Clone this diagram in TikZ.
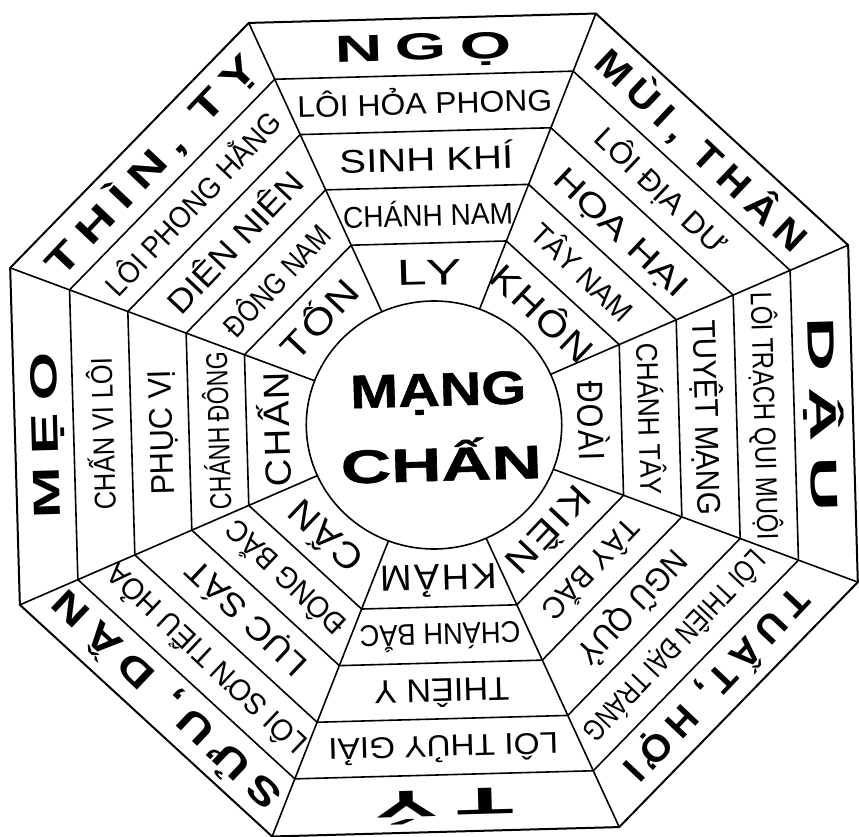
\documentclass[tikz,border=0pt]{standalone}
\usepackage{fontspec}
\setmainfont{Liberation Sans}
\usepackage{graphicx}
\newcommand\fitw[2]{\resizebox{#1pt}{\height}{#2}}

\begin{document}
\begin{tikzpicture}[x=1pt,y=1pt,
  edge/.style={line width=1.6pt,line join=round},
  rimlabel/.style={anchor=base,inner sep=0pt,font=\fontsize{37.7}{40}\selectfont\bfseries\addfontfeature{LetterSpace=20}},
  hexlabel/.style={anchor=base,inner sep=0pt,font=\fontsize{30}{32}\selectfont},
  starlabel/.style={anchor=base,inner sep=0pt,font=\fontsize{32.8}{34}\selectfont},
  dirlabel/.style={anchor=base,inner sep=0pt,font=\fontsize{30}{32}\selectfont},
  trilabel/.style={anchor=base,inner sep=0pt,font=\fontsize{36.3}{38}\selectfont\addfontfeature{LetterSpace=6}},
  core/.style={anchor=base,inner sep=0pt,font=\fontsize{47}{50}\selectfont\bfseries\addfontfeature{FakeBold=1}}]
  \useasboundingbox (-434,-411) rectangle (425,425);
  \fill[white] (-434,-411) rectangle (425,425);
  \begin{scope}[xscale=1.03,rotate=1.6]
    % octagon and its rings
    \draw[edge,line width=2pt] (22.5:440.5) \foreach \k in {1,...,7}{ -- (22.5+45*\k:440.5)} -- cycle;
    \foreach \R in {378.8,318.2,257.6,197}
      \draw[edge] (22.5:\R) \foreach \k in {1,...,7}{ -- (22.5+45*\k:\R)} -- cycle;
    \foreach \k in {0,...,7} \draw[edge] (22.5+45*\k:124) -- (22.5+45*\k:440.5);
    \draw[edge,fill=white] (0,0) circle (124);
    % outer ring
    \foreach \a/\w/\t [count=\i] in {90/177/NGỌ,45/276/{MÙI, THÂN},0/194/DẬU,-45/250/{TUẤT, HỢI},
      -90/138/TÝ,-135/300/{SỬU, DẦN},180/167/MẸO,135/290/{THÌN, TỴ}}
      \node[rimlabel,rotate=\a-88.4] (rim\i) at (\a:365) {\fitw{\w}{\t}};
    % hexagram ring
    \foreach \a/\w/\t [count=\i] in {90/255/LÔI HỎA PHONG,45/169/LÔI ĐỊA DƯ,0/247/LÔI TRẠCH QUI MUỘI,
      -45/250/LÔI THIÊN ĐẠI TRÁNG,-90/230/LÔI THỦY GIẢI,-135/262/LÔI SƠN TIỂU HỎA,
      180/152/CHẤN VI LÔI,135/240/LÔI PHONG HẰNG}
      \node[hexlabel,rotate=\a-88.4] (hex\i) at (\a:311) {\fitw{\w}{\t}};
    % star ring
    \foreach \a/\w/\t [count=\i] in {90/174/SINH KHÍ,45/172/HỌA HẠI,0/195/TUYỆT MẠNG,-45/144/NGŨ QUỶ,
      -90/135/THIÊN Y,-135/153/LỤC SÁT,180/125/PHỤC VỊ,135/181/DIÊN NIÊN}
      \node[starlabel,rotate=\a-88.4] (star\i) at (\a:254) {\fitw{\w}{\t}};
    % directions
    \foreach \a/\w/\t [count=\i] in {90/170/CHÁNH NAM,45/128/TÂY NAM,0/152/CHÁNH TÂY,-45/127/TÂY BẮC,
      -90/161/CHÁNH BẮC,-135/152/ĐÔNG BẮC,180/157/CHÁNH ĐÔNG,135/140/ĐÔNG NAM}
      \node[dirlabel,rotate=\a-88.4] (dir\i) at (\a:199) {\fitw{\w}{\t}};
    % trigrams
    \foreach \a/\w/\t [count=\i] in {90/65/LY,45/125/KHÔN,0/80/ĐOÀI,-45/106/KIỀN,
      -90/117/KHẢM,-135/88/CẤN,180/115/CHẤN,135/96/TỐN}
      \node[trilabel,rotate=\a-88.4] (tri\i) at (\a:140) {\fitw{\w}{\t}};
    \node[core,rotate=1.6] (mang) at (5,19) {\fitw{176}{MẠNG}};
    \node[core,rotate=1.6] (chan) at (6,-56) {\fitw{201}{CHẤN}};
  \end{scope}
\end{tikzpicture}
\end{document}
